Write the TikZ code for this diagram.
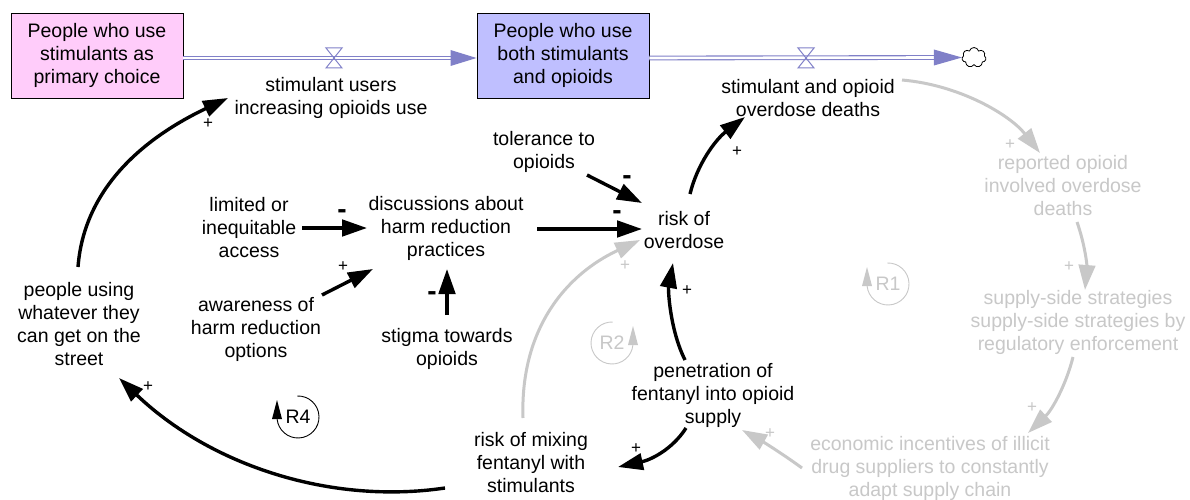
\documentclass[tikz,border=0pt]{standalone}
\usepackage{fontspec}
\setmainfont{Liberation Sans}
\usetikzlibrary{arrows.meta,shapes.symbols,calc,shadows}

\definecolor{stockpink}{RGB}{255,204,250}
\definecolor{stockblue}{RGB}{191,191,255}
\definecolor{pipecol}{RGB}{128,128,200}
\definecolor{faded}{RGB}{200,200,200}

\tikzset{
  lbl/.style={font=\fontsize{19.5}{23}\selectfont, align=center, inner sep=0pt},
  fadedlbl/.style={lbl, text=faded},
  stock/.style={lbl, draw=black, line width=0.9pt, minimum width=172pt, minimum height=85pt,
    drop shadow={shadow xshift=1.2pt, shadow yshift=-1.2pt, opacity=0.5, fill=black}},
  link/.style={line width=3.4pt, -{Triangle[length=25pt,width=16.5pt]}},
  fadedlink/.style={link, draw=faded, line width=3pt},
  polplus/.style={inner sep=0pt, font=\fontsize{17}{17}\selectfont},
  polminus/.style={inner sep=0pt, font=\fontsize{28}{28}\selectfont\bfseries},
  pipeline/.style={draw=pipecol, double=white, double distance=2.6pt, line width=1.1pt},
  valve/.style={draw=pipecol, line width=1pt, line join=miter},
  loopline/.style={line width=0.9pt},
}

\begin{document}
\begin{tikzpicture}[x=1pt,y=-1pt]
\useasboundingbox (0,0) rectangle (1190,500);
\fill[white] (0,0) rectangle (1190,500);

% stocks and the sink
\node[stock, fill=stockpink] (s1) at (97,55.5) {People who use\\stimulants as\\primary choice};
\node[stock, fill=stockblue] (s2) at (563,55.5) {People who use\\both stimulants\\and opioids};
\node[cloud, draw, cloud puffs=7, cloud puff arc=150, aspect=1.2, minimum width=24pt,
      minimum height=20pt, inner sep=0pt, line width=0.8pt] (sink) at (974,57.5) {};

% flow valves
\coordinate (v1) at (334,58);
\coordinate (v2) at (806,58);

% pipes
\draw[pipeline] ([yshift=-2.5pt]s1.east) -- ([xshift=-25pt,yshift=-2.5pt]s2.west);
\fill[pipecol] ([xshift=-26pt,yshift=5.5pt]s2.west) -- ([yshift=-2.5pt]s2.west)
   -- ([xshift=-26pt,yshift=-10.5pt]s2.west) -- cycle;
\draw[pipeline] ([yshift=-2.5pt]s2.east) -- ([xshift=-27pt]sink.west);
\fill[pipecol] ([xshift=-28pt,yshift=8pt]sink.west) -- (sink.west)
   -- ([xshift=-28pt,yshift=-8pt]sink.west) -- cycle;

\draw[valve] ($(v1)+(-8,-10)$) -- ($(v1)+(8,-10)$) -- ($(v1)+(-8,10)$) -- ($(v1)+(8,10)$) -- cycle;
\draw[valve] ($(v2)+(-8,-10)$) -- ($(v2)+(8,-10)$) -- ($(v2)+(-8,10)$) -- ($(v2)+(8,10)$) -- cycle;

% flow names
\node[lbl] (f1) at (331,98) {stimulant users\\increasing opioids use};
\node[lbl] (f2) at (808,98.5) {stimulant and opioid\\overdose deaths};

% variables
\node[lbl] (ppl) at (79,324) {people using\\whatever they\\can get on the\\street};
\node[lbl] (lim) at (249,228) {limited or\\inequitable\\access};
\node[lbl] (aware) at (256,329) {awareness of\\harm reduction\\options};
\node[lbl] (disc) at (446,228) {discussions about\\harm reduction\\practices};
\node[lbl] (stig) at (447,348.5) {stigma towards\\opioids};
\node[lbl] (tol) at (544,151.5) {tolerance to\\opioids};
\node[lbl] (risk) at (684,230) {risk of\\overdose};
\node[lbl] (pen) at (713,395) {penetration of\\fentanyl into opioid\\supply};
\node[lbl] (mix) at (531,463) {risk of mixing\\fentanyl with\\stimulants};
\node[fadedlbl] (rep) at (1063,186) {reported opioid\\involved overdose\\deaths};
\node[fadedlbl] (sup) at (1078,322) {supply-side strategies\\supply-side strategies by\\regulatory enforcement};
\node[fadedlbl] (eco) at (930,468) {economic incentives of illicit\\drug suppliers to constantly\\adapt supply chain};

% faded links
\draw[fadedlink] ($(mix)+(-8,-45)$) .. controls +(-3,-88) and +(-75,35) .. ($(risk)+(-44,10)$);
\draw[fadedlink] ($(f2)+(94,-18.5)$) .. controls +(58,5) and +(-30,-38) .. ($(rep)+(-23,-33)$);
\draw[fadedlink] ($(rep)+(14,36)$) .. controls +(8,23) and +(2,-25) .. ($(sup)+(7,-32)$);
\draw[fadedlink] ($(sup)+(-5,35)$) .. controls +(-7,28) and +(24,-23) .. ($(eco)+(98,-35)$);
\draw[fadedlink] ($(eco)+(-128,0)$) .. controls +(-22,-16) and +(18,10) .. ($(pen)+(29,35)$);

% causal links
\draw[link] ($(ppl)+(-1,-57)$) .. controls +(7,-92) and +(-63,30) .. ($(f1)+(-103,0)$);
\draw[link] ($(lim)+(53,0)$) -- ($(disc)+(-79,0)$);
\draw[link] ($(aware)+(66,-34)$) -- ($(disc)+(-73,41)$);
\draw[link] ($(stig)+(0,-33.5)$) -- ($(disc)+(1,41)$);
\draw[link] ($(disc)+(91,1)$) -- ($(risk)+(-42,-1)$);
\draw[link] ($(tol)+(43,23.5)$) -- ($(risk)+(-42,-27)$);
\draw[link] ($(risk)+(6,-36)$) .. controls +(7,-29) and +(-30,23) .. ($(f2)+(-63,18.5)$);
\draw[link] ($(pen)+(-28,-35)$) .. controls +(-15,-30) and +(-5,27) .. ($(risk)+(-11,33)$);
\draw[link] ($(pen)+(-27,33)$) .. controls +(-14,22) and +(32,-7) .. ($(mix)+(87,4)$);
\draw[link] ($(mix)+(-86,25)$) .. controls +(-115,17) and +(91,87) .. ($(ppl)+(40,54)$);

% polarities
\node[polplus] at (208,124) {+};
\node[polplus] at (343,267) {+};
\node[polplus] at (737,152) {+};
\node[polplus] at (687,291) {+};
\node[polplus] at (636,449) {+};
\node[polplus] at (148,387) {+};
\node[polminus] at (342,214) {-};
\node[polminus] at (432,296) {-};
\node[polminus] at (617,215) {-};
\node[polminus] at (627,180) {-};
\node[polplus, text=faded] at (625,266) {+};
\node[polplus, text=faded] at (1010,145) {+};
\node[polplus, text=faded] at (1069,267) {+};
\node[polplus, text=faded] at (1032,408) {+};
\node[polplus, text=faded] at (770,434) {+};

% loop markers
\node[lbl] (r4) at (298,417) {R4};
\draw[loopline] ($(r4)+(-0.73,-21)$) arc[start angle=-92, end angle=174, radius=21];
\fill ($(r4)+(-26,2)$) -- ($(r4)+(-16,2)$) -- ($(r4)+(-21,-17)$) -- cycle;

\node[fadedlbl] (r2) at (612,343) {R2};
\draw[loopline, faded] ($(r2)+(0.73,-21)$) arc[start angle=-88, end angle=-354, radius=21];
\fill[faded] ($(r2)+(16,2)$) -- ($(r2)+(26,2)$) -- ($(r2)+(21,-17)$) -- cycle;

\node[fadedlbl] (r1) at (888,284) {R1};
\draw[loopline, faded] ($(r1)+(-0.73,-21)$) arc[start angle=-92, end angle=174, radius=21];
\fill[faded] ($(r1)+(-26,2)$) -- ($(r1)+(-16,2)$) -- ($(r1)+(-21,-17)$) -- cycle;
\end{tikzpicture}
\end{document}
